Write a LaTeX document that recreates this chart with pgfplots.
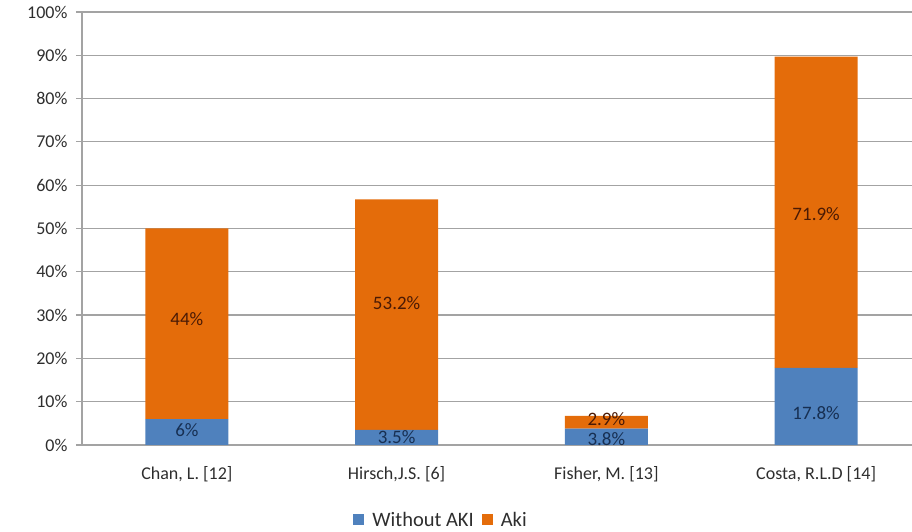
\documentclass[border=0pt]{standalone}
\usepackage{pgfplots}
\usepackage{pgfplotstable}
\pgfplotsset{compat=1.18}
\usepackage{fontspec}
\setmainfont{Carlito}

\definecolor{barblue}{HTML}{4F81BD}
\definecolor{barorange}{HTML}{E46C0A}
\definecolor{gridgray}{HTML}{A3A3A3}
\definecolor{ticktext}{HTML}{2E2E2E}
\definecolor{bluelabel}{HTML}{172F52}
\definecolor{orangelabel}{HTML}{4A1A05}

% x: study index, y: share in percent, dy: nudge of the value label (pt)
\pgfplotstableread{
x y    dy
0 6    2
1 3.5  0
2 3.8  -2
3 17.8 -7
}\withoutaki
\pgfplotstableread{
x y    dy
0 44   5
1 53.2 12
2 2.9  3
3 71.9 -2
}\aki

\begin{document}
\begin{tikzpicture}[x=1pt,y=1pt]
\path[use as bounding box, clip] (0,0) rectangle (912,532);
\begin{axis}[
  at={(82pt,87pt)}, anchor=south west,
  scale only axis, width=839pt, height=433pt,
  ybar stacked, bar width=83pt,
  xmin=-0.5, xmax=3.5, ymin=0, ymax=100,
  axis lines=left,
  axis line style={draw=gridgray, line width=1.2pt, -},
  ymajorgrids, grid style={draw=gridgray, line width=1.2pt},
  ytick={0,10,...,100},
  yticklabel={\pgfmathprintnumber{\tick}\%},
  /pgf/number format/assume math mode=true,
  xtick={0,1,2,3},
  xticklabels={{Chan, L. [12]},{Hirsch,J.S. [6]},{Fisher, M. [13]},{Costa, R.L.D [14]}},
  extra x ticks={-0.5,0.5,1.5,2.5},
  extra x tick labels={},
  extra x tick style={major tick length=6pt, tick style={draw=gridgray, line width=1.2pt}},
  x tick style={draw=none},
  y tick style={draw=gridgray, line width=1.2pt},
  tick align=outside, major tick length=6pt,
  yticklabel style={font=\fontsize{18}{21}\selectfont, text=ticktext, xshift=-5pt},
  xticklabel style={font=\fontsize{18}{21}\selectfont, text=ticktext, yshift=-12pt},
  legend style={at={(0.428,-0.173)}, anchor=center, draw=none, fill=none,
    legend columns=2, font=\fontsize{20.5}{24}\selectfont, text=ticktext,
    /tikz/every odd column/.append style={column sep=6pt},
    /tikz/every even column/.append style={column sep=6pt}},
  legend image code/.code={\fill[#1] (0pt,-5.5pt) rectangle (11pt,5.5pt);},
  visualization depends on={rawy \as \rawy},
  visualization depends on={\thisrow{dy} \as \labeldy},
  nodes near coords={\pgfmathprintnumber{\rawy}\%},
  every node near coord/.append style={anchor=center, yshift=\labeldy pt,
    inner sep=0pt, font=\fontsize{19}{20}\selectfont},
]
% share of patients without acute kidney injury
\addplot[fill=barblue, draw=none,
  every node near coord/.append style={text=bluelabel}]
  table[x=x, y=y] {\withoutaki};
% share of patients with acute kidney injury
\addplot[fill=barorange, draw=none,
  every node near coord/.append style={text=orangelabel}]
  table[x=x, y=y] {\aki};
\legend{Without AKI, Aki}
\end{axis}
\end{tikzpicture}
\end{document}
